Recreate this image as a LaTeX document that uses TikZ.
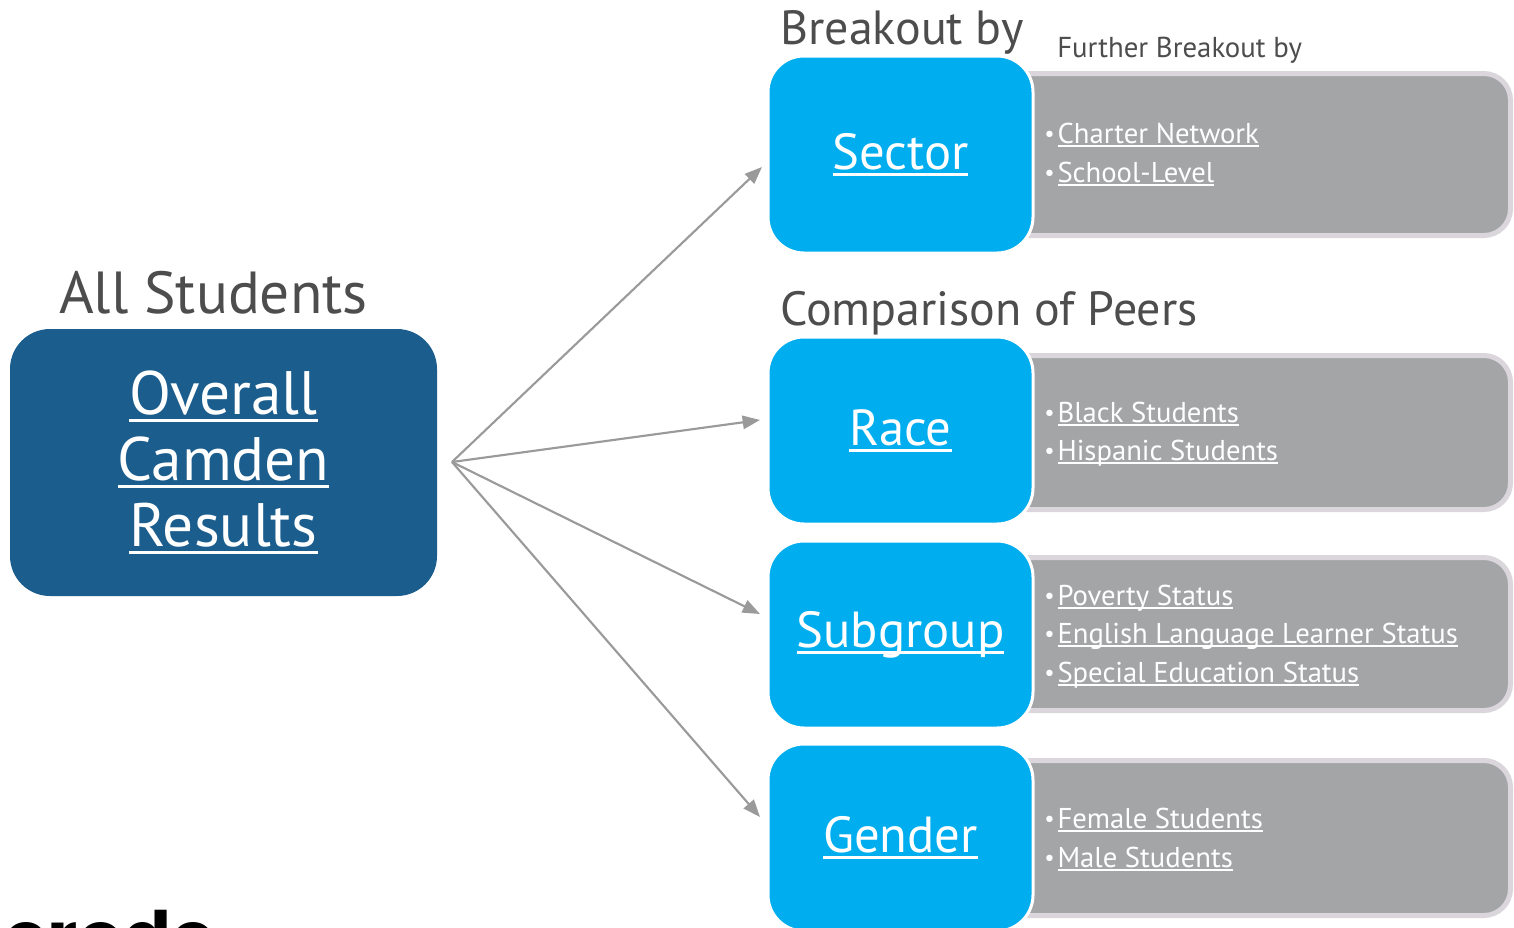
\documentclass[tikz,border=0pt]{standalone}
\usepackage{fontspec}
\setmainfont{PT Sans}
\newfontfamily\logofont{Poppins}
\usetikzlibrary{arrows.meta,calc}
\definecolor{cyanC}{HTML}{00AEEF}
\definecolor{navyC}{HTML}{1B5D8D}
\definecolor{grayFill}{HTML}{A4A5A7}
\definecolor{grayEdge}{HTML}{DAD6DB}
\definecolor{headC}{HTML}{4D4D4D}
\definecolor{arrowC}{HTML}{9A9A9A}
\newcommand{\myul}[1]{\setbox0\hbox{#1}\rlap{\rule[-0.13em]{\wd0}{0.06em}}\box0}
\newcommand{\fs}[1]{\fontsize{#1}{1.15\dimexpr#1\relax}\selectfont}
\newcommand{\bul}[1]{{\raisebox{0.05em}{\scalebox{0.8}{\textbullet}}}\kern0.1em\myul{#1}}
\tikzset{
  catbox/.style={fill=cyanC, draw=white, line width=2.25pt, rounded corners=27pt,
    minimum width=198.75pt, minimum height=140.25pt, inner sep=0pt,
    text=white, font=\fs{38pt}},
  greybox/.style={fill=grayFill, draw=grayEdge, line width=3.75pt, rounded corners=20pt},
  heading/.style={anchor=base west, inner sep=0pt, text=headC, font=\fs{36pt}},
  subhead/.style={anchor=base west, inner sep=0pt, text=headC, font=\fs{21.6pt}},
  item/.style={anchor=base west, inner sep=0pt, text=white, font=\fs{21.5pt}},
  conn/.style={draw=arrowC, line width=1.6pt, -{Triangle[length=13pt,width=10pt]}},
}
\begin{document}
\begin{tikzpicture}[x=0.75pt,y=-0.75pt]
\useasboundingbox (0,0) rectangle (1514,928);
\clip (0,0) rectangle (1514,928);

% grey detail boxes (drawn first, behind the category boxes)
\path[greybox] (1000,73.5) rectangle (1510.5,235.5) coordinate (g1);
\path[greybox] (1000,355.5) rectangle (1510.5,509.5) coordinate (g2);
\path[greybox] (1000,557.5) rectangle (1510.5,710.5) coordinate (g3);
\path[greybox] (1000,760.5) rectangle (1510.5,915.5) coordinate (g4);

% main box
\node[fill=navyC, rounded corners=30pt, minimum width=320.25pt, minimum height=200.25pt,
      inner sep=0pt, text=white, align=center, font=\fontsize{46pt}{49.5pt}\selectfont]
  (overall) at (223.5,462.5) {\myul{Overall}\\\myul{Camden}\\\myul{Results}};

% category boxes
\node[catbox, minimum height=147.75pt] (sector) at (900.5,154.5) {\myul{Sector}};
\node[catbox] (race) at (900.5,430.5) {\myul{Race}};
\node[catbox] (subgroup) at (900.5,634.5) {\myul{Subgroup}};
\node[catbox] (gender) at (900.5,837.5) {\myul{Gender}};

% headings
\node[heading] (h1) at (780,44) {Breakout by};
\node[subhead] (h2) at (1057,57) {Further Breakout by};
\node[heading, font=\fs{44.5pt}] (h3) at (59,313) {All Students};
\node[heading] (h4) at (780,325) {Comparison of Peers};

% detail items
\node[item] (i1) at (1044,143) {\bul{Charter Network}};
\node[item] (i2) at (1044,182) {\bul{School-Level}};
\node[item] (i3) at (1044,422) {\bul{Black Students}};
\node[item] (i4) at (1044,460) {\bul{Hispanic Students}};
\node[item] (i5) at (1044,605) {\bul{Poverty Status}};
\node[item] (i6) at (1044,643) {\bul{English Language Learner Status}};
\node[item] (i7) at (1044,682) {\bul{Special Education Status}};
\node[item] (i8) at (1044,828) {\bul{Female Students}};
\node[item] (i9) at (1044,867) {\bul{Male Students}};

% connectors
\coordinate (hub) at (452,462);
\coordinate (e1) at (762,167);
\coordinate (e2) at (760,420);
\coordinate (e3) at (760,614);
\coordinate (e4) at (760,817);
\draw[conn] (hub) -- (e1);
\draw[conn] (hub) -- (e2);
\draw[conn] (hub) -- (e3);
\draw[conn] (hub) -- (e4);

% cut-off logo text
\node[anchor=base west, inner sep=0pt, text=black, font=\logofont\bfseries\fontsize{53pt}{53pt}\selectfont] (logo) at (4,962) {erode};
\end{tikzpicture}
\end{document}
